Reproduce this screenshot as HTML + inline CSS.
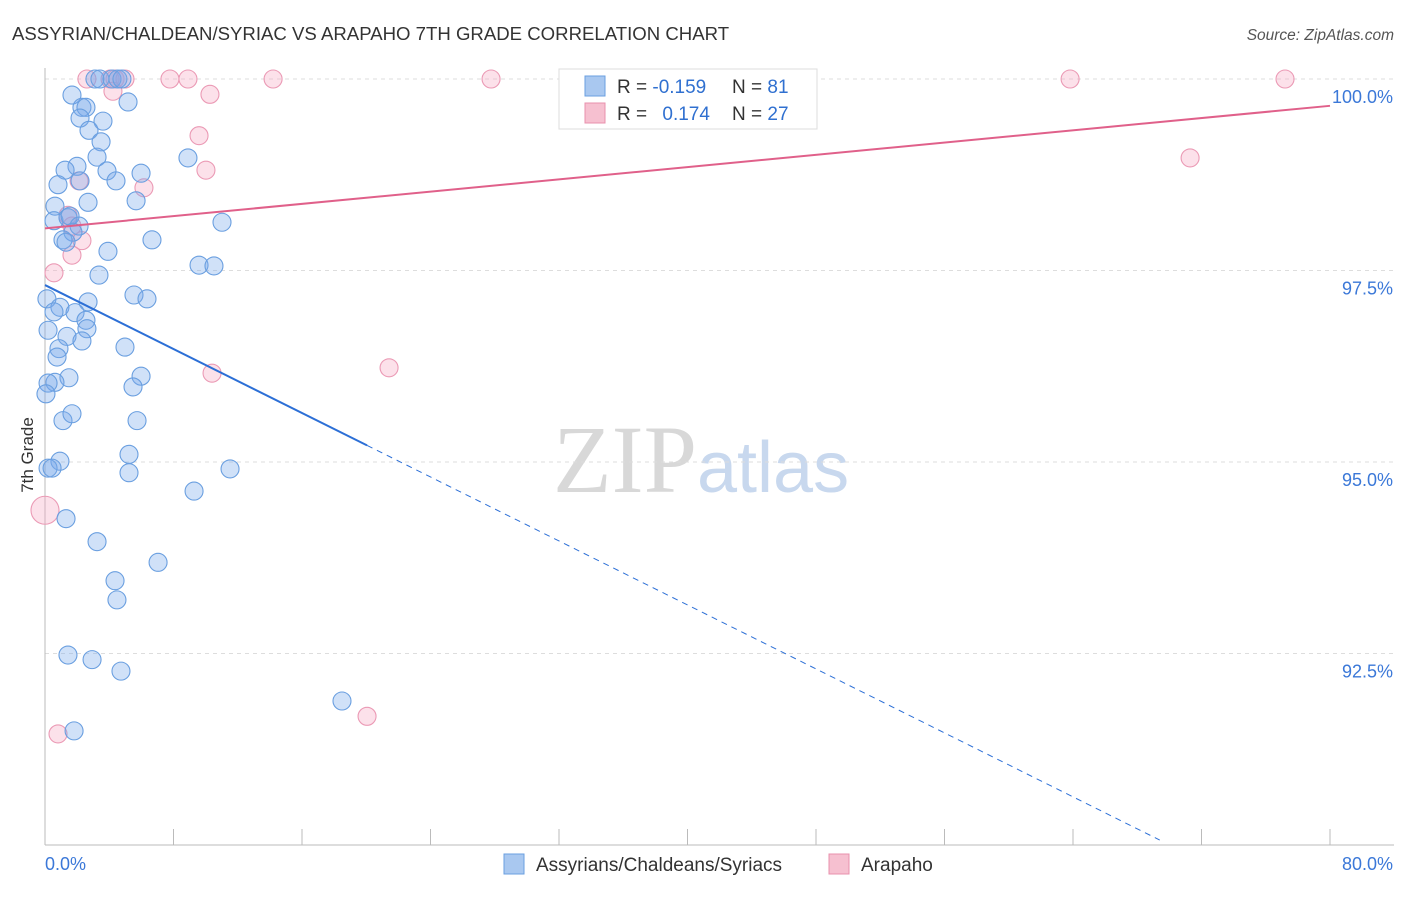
<!DOCTYPE html>
<html><head><meta charset="utf-8"><style>
body{margin:0;background:#fff;font-family:"Liberation Sans",sans-serif;}
</style></head><body>
<svg id="c" width="1406" height="892" xmlns="http://www.w3.org/2000/svg">
<text x="12" y="40" font-size="18.6" fill="#333">ASSYRIAN/CHALDEAN/SYRIAC VS ARAPAHO 7TH GRADE CORRELATION CHART</text>
<text x="1394" y="40" font-size="15.5" fill="#555" font-style="italic" text-anchor="end">Source: ZipAtlas.com</text>
<text x="553" y="492" font-size="96" fill="#d8d8d8" font-family="Liberation Serif,serif">ZIP<tspan fill="#c8d8ee" font-family="Liberation Sans,sans-serif" font-size="72">atlas</tspan></text>
<text transform="translate(33,455) rotate(-90)" font-size="17" fill="#333" text-anchor="middle">7th Grade</text>
<g id="grid"></g><g id="ax"></g><g id="marks"></g>
<g>
<rect x="559" y="69" width="258" height="60" fill="#fff" stroke="#ddd"/>
<rect x="585" y="76" width="20" height="20" fill="#a9c8f0" stroke="#6a9fe0"/>
<rect x="585" y="103" width="20" height="20" fill="#f6c0d0" stroke="#e890ad"/>
<text x="617" y="93" font-size="19" fill="#333">R = <tspan fill="#3070d0">-0.159</tspan></text>
<text x="732" y="93" font-size="19" fill="#333">N = <tspan fill="#3070d0">81</tspan></text>
<text x="617" y="120" font-size="19" fill="#333">R = <tspan fill="#3070d0" dx="10">0.174</tspan></text>
<text x="732" y="120" font-size="19" fill="#333">N = <tspan fill="#3070d0">27</tspan></text>
</g>
<g>
<rect x="504" y="854" width="20" height="20" fill="#a9c8f0" stroke="#6a9fe0"/>
<text x="536" y="871" font-size="19" fill="#333">Assyrians/Chaldeans/Syriacs</text>
<rect x="829" y="854" width="20" height="20" fill="#f6c0d0" stroke="#e890ad"/>
<text x="861" y="871" font-size="19" fill="#333">Arapaho</text>
</g>
</svg>
<script>
const blueX=[3.11,3.42,4.17,4.54,4.79,1.68,2.30,2.55,5.17,2.18,3.61,2.74,3.49,3.24,8.90,1.99,1.25,3.86,5.98,4.42,0.81,2.18,2.68,5.67,0.62,0.56,1.43,1.56,2.12,1.74,1.12,1.31,6.66,11.02,3.92,9.59,10.52,3.36,5.54,6.35,2.68,0.12,0.93,0.56,1.87,2.55,2.61,0.19,1.37,2.30,4.98,0.87,0.75,5.98,1.49,0.62,0.19,5.48,0.06,5.73,1.12,1.68,5.23,0.93,0.19,0.44,5.23,11.52,9.28,1.31,3.24,7.04,4.36,4.48,1.43,2.93,4.73,18.49,1.81];
const blueY=[100,100,100,100,100,99.79,99.63,99.63,99.70,99.49,99.45,99.33,99.18,98.98,98.97,98.86,98.81,98.80,98.77,98.67,98.62,98.67,98.39,98.41,98.34,98.15,98.19,98.21,98.08,98.00,97.90,97.87,97.90,98.13,97.75,97.57,97.56,97.44,97.18,97.13,97.09,97.13,97.02,96.96,96.95,96.85,96.74,96.72,96.64,96.58,96.50,96.48,96.37,96.12,96.10,96.04,96.03,95.98,95.89,95.54,95.54,95.63,95.10,95.01,94.92,94.92,94.86,94.91,94.62,94.26,93.96,93.69,93.45,93.20,92.48,92.42,92.27,91.88,91.49];
const pinkX=[2.61,4.05,4.36,4.98,7.78,8.90,14.20,27.77,63.82,77.20,4.23,10.27,9.59,10.02,71.29,6.16,2.12,1.43,1.68,2.30,1.68,0.56,10.40,21.42,0.0,20.05,0.81];
const pinkY=[100,100,100,100,100,100,100,100,100,100,99.84,99.80,99.26,98.81,98.97,98.58,98.67,98.22,98.08,97.89,97.70,97.47,96.16,96.23,94.37,91.68,91.45];
const yTicks=[100,97.5,95,92.5];
const yTickLabels=["100.0%","97.5%","95.0%","92.5%"];
const xTicks=[0,8,16,24,32,40,48,56,64,72,80];
const blueTrend=[97.31,-0.1044];
const pinkTrend=[98.05,0.02];
const X0=45,X1=1330,Y0=79,Y1=845;
const sx=v=>X0+(v/80)*(X1-X0);
const sy=v=>Y0+(100-v)/10*(Y1-Y0);
const NS="http://www.w3.org/2000/svg";
function mk(p,t,a){const e=document.createElementNS(NS,t);for(const k in a)e.setAttribute(k,a[k]);p.appendChild(e);return e;}
const grid=document.getElementById('grid'),ax=document.getElementById('ax'),marks=document.getElementById('marks');
yTicks.forEach((v,i)=>{
 const l=mk(grid,'line',{x1:X0,x2:1394,y1:sy(v),y2:sy(v),stroke:'#ddd','stroke-dasharray':'4,4'});
 
 
 const t=mk(ax,'text',{x:1393,y:sy(v)+24,'font-size':18,fill:'#3b78d8','text-anchor':'end'});
 t.textContent=yTickLabels[i];
 
 
});
mk(ax,'line',{x1:X0,x2:X0,y1:68,y2:Y1,stroke:'#bbb'});
mk(ax,'line',{x1:X0,x2:1394,y1:Y1,y2:Y1,stroke:'#bbb'});
xTicks.forEach(v=>{const l=mk(ax,'line',{x1:sx(v),x2:sx(v),y1:829,y2:Y1,stroke:'#bbb'});
 
 });
const xl0=mk(ax,'text',{x:45,y:870,'font-size':18,fill:'#3b78d8'});xl0.textContent='0.0%';


const xl1=mk(ax,'text',{x:1393,y:870,'font-size':18,fill:'#3b78d8','text-anchor':'end'});xl1.textContent='80.0%';


function dots(xs,ys,fill,stroke,name){xs.forEach((x,i)=>{const c=mk(marks,'circle',{cx:sx(x),cy:sy(ys[i]),r:x===0?14:9,fill:fill,stroke:stroke,'stroke-width':1.1});
 
 });}
dots(pinkX,pinkY,'rgba(245,170,195,0.35)','#eb9ab5','arapaho-point');
dots(blueX,blueY,'rgba(120,170,235,0.35)','#6a9fe0','assyrian-point');
const bEnd=20.05,bFar=69.4;
const bt=mk(marks,'line',{x1:sx(0),y1:sy(blueTrend[0]),x2:sx(bEnd),y2:sy(blueTrend[0]+blueTrend[1]*bEnd),stroke:'#2c6fd6','stroke-width':2});


const bd=mk(marks,'line',{x1:sx(bEnd),y1:sy(blueTrend[0]+blueTrend[1]*bEnd),x2:sx(bFar),y2:sy(blueTrend[0]+blueTrend[1]*bFar),stroke:'#2c6fd6','stroke-width':1,'stroke-dasharray':'6,5'});


const pt=mk(marks,'line',{x1:sx(0),y1:sy(pinkTrend[0]),x2:sx(80),y2:sy(pinkTrend[0]+pinkTrend[1]*80),stroke:'#e0608a','stroke-width':2});


</script>
</body></html>
